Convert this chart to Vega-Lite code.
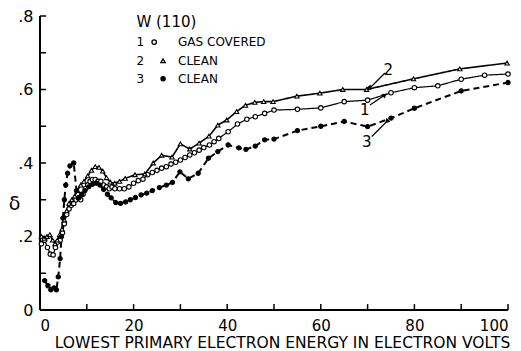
{
  "$schema": "https://vega.github.io/schema/vega-lite/v6.json",
  "width": 468,
  "height": 294,
  "autosize": {"type": "none"},
  "padding": {"left": 40, "top": 16, "right": 13, "bottom": 41},
  "background": "white",
  "config": {
    "view": {"stroke": null},
    "font": "DejaVu Sans",
    "axis": {"grid": false, "domain": false, "ticks": false, "labelColor": "black", "titleColor": "black", "labelFont": "DejaVu Sans", "titleFont": "DejaVu Sans", "titleFontWeight": "normal"}
  },
  "datasets": {
    "curves": [
      {"s":"1","x":0.3,"y":0.18},{"s":"1","x":1,"y":0.19},{"s":"1","x":1.6,"y":0.17},{"s":"1","x":2.2,"y":0.152},{"s":"1","x":2.8,"y":0.15},{"s":"1","x":3.3,"y":0.17},{"s":"1","x":3.8,"y":0.185},{"s":"1","x":4.3,"y":0.19},{"s":"1","x":4.8,"y":0.21},{"s":"1","x":5.2,"y":0.235},{"s":"1","x":5.7,"y":0.26},{"s":"1","x":6.2,"y":0.275},{"s":"1","x":6.7,"y":0.285},{"s":"1","x":7.2,"y":0.29},{"s":"1","x":7.7,"y":0.3},{"s":"1","x":8.2,"y":0.305},{"s":"1","x":8.7,"y":0.3},{"s":"1","x":9.2,"y":0.315},{"s":"1","x":9.7,"y":0.33},{"s":"1","x":10.2,"y":0.34},{"s":"1","x":10.7,"y":0.35},{"s":"1","x":11.2,"y":0.355},{"s":"1","x":11.8,"y":0.355},{"s":"1","x":12.4,"y":0.35},{"s":"1","x":13,"y":0.35},{"s":"1","x":13.6,"y":0.34},{"s":"1","x":14.2,"y":0.335},{"s":"1","x":14.8,"y":0.33},{"s":"1","x":15.4,"y":0.335},{"s":"1","x":16,"y":0.33},{"s":"1","x":17,"y":0.33},{"s":"1","x":18,"y":0.33},{"s":"1","x":19,"y":0.335},{"s":"1","x":20,"y":0.345},{"s":"1","x":21,"y":0.352},{"s":"1","x":22,"y":0.356},{"s":"1","x":23,"y":0.368},{"s":"1","x":24,"y":0.374},{"s":"1","x":25,"y":0.38},{"s":"1","x":26,"y":0.386},{"s":"1","x":27,"y":0.39},{"s":"1","x":28,"y":0.397},{"s":"1","x":29,"y":0.402},{"s":"1","x":30,"y":0.408},{"s":"1","x":31,"y":0.415},{"s":"1","x":32,"y":0.422},{"s":"1","x":33,"y":0.428},{"s":"1","x":34,"y":0.435},{"s":"1","x":35,"y":0.442},{"s":"1","x":36.2,"y":0.449},{"s":"1","x":37.2,"y":0.458},{"s":"1","x":38.2,"y":0.467},{"s":"1","x":40.2,"y":0.485},{"s":"1","x":42.2,"y":0.506},{"s":"1","x":44.2,"y":0.519},{"s":"1","x":46,"y":0.526},{"s":"1","x":48,"y":0.535},{"s":"1","x":50,"y":0.544},{"s":"1","x":55,"y":0.546},{"s":"1","x":60,"y":0.55},{"s":"1","x":65,"y":0.567},{"s":"1","x":70,"y":0.571},{"s":"1","x":75,"y":0.591},{"s":"1","x":80,"y":0.605},{"s":"1","x":85,"y":0.61},{"s":"1","x":90,"y":0.628},{"s":"1","x":95,"y":0.639},{"s":"1","x":100,"y":0.642},
      {"s":"2","x":0.3,"y":0.2},{"s":"2","x":0.9,"y":0.195},{"s":"2","x":1.5,"y":0.2},{"s":"2","x":2.1,"y":0.205},{"s":"2","x":2.7,"y":0.19},{"s":"2","x":3.2,"y":0.18},{"s":"2","x":3.7,"y":0.19},{"s":"2","x":4.2,"y":0.205},{"s":"2","x":4.7,"y":0.22},{"s":"2","x":5.2,"y":0.245},{"s":"2","x":5.7,"y":0.27},{"s":"2","x":6.2,"y":0.29},{"s":"2","x":6.8,"y":0.3},{"s":"2","x":7.4,"y":0.31},{"s":"2","x":8,"y":0.325},{"s":"2","x":8.7,"y":0.34},{"s":"2","x":9.4,"y":0.35},{"s":"2","x":10.2,"y":0.365},{"s":"2","x":11,"y":0.38},{"s":"2","x":11.8,"y":0.39},{"s":"2","x":12.6,"y":0.388},{"s":"2","x":13.4,"y":0.378},{"s":"2","x":14.2,"y":0.36},{"s":"2","x":15,"y":0.348},{"s":"2","x":16,"y":0.345},{"s":"2","x":17,"y":0.35},{"s":"2","x":18.2,"y":0.358},{"s":"2","x":20.3,"y":0.368},{"s":"2","x":22.4,"y":0.37},{"s":"2","x":24.2,"y":0.4},{"s":"2","x":26,"y":0.421},{"s":"2","x":28.2,"y":0.416},{"s":"2","x":30,"y":0.452},{"s":"2","x":32,"y":0.438},{"s":"2","x":34,"y":0.454},{"s":"2","x":36.1,"y":0.473},{"s":"2","x":38,"y":0.503},{"s":"2","x":39.9,"y":0.517},{"s":"2","x":42,"y":0.54},{"s":"2","x":43.9,"y":0.557},{"s":"2","x":45.9,"y":0.565},{"s":"2","x":47.8,"y":0.567},{"s":"2","x":49.8,"y":0.567},{"s":"2","x":54.9,"y":0.582},{"s":"2","x":59.8,"y":0.59},{"s":"2","x":64.7,"y":0.6},{"s":"2","x":69.8,"y":0.6},{"s":"2","x":79.8,"y":0.629},{"s":"2","x":89.7,"y":0.656},{"s":"2","x":99.8,"y":0.672},
      {"s":"3","x":1,"y":0.08},{"s":"3","x":1.7,"y":0.066},{"s":"3","x":2.3,"y":0.055},{"s":"3","x":3,"y":0.06},{"s":"3","x":3.5,"y":0.055},{"s":"3","x":3.9,"y":0.09},{"s":"3","x":4.3,"y":0.14},{"s":"3","x":4.6,"y":0.2},{"s":"3","x":4.9,"y":0.25},{"s":"3","x":5.2,"y":0.3},{"s":"3","x":5.5,"y":0.34},{"s":"3","x":5.9,"y":0.372},{"s":"3","x":6.4,"y":0.392},{"s":"3","x":7.2,"y":0.4},{"s":"3","x":7.8,"y":0.325},{"s":"3","x":8.3,"y":0.305},{"s":"3","x":8.9,"y":0.315},{"s":"3","x":9.6,"y":0.325},{"s":"3","x":10.4,"y":0.335},{"s":"3","x":11.2,"y":0.342},{"s":"3","x":12,"y":0.345},{"s":"3","x":12.8,"y":0.34},{"s":"3","x":13.6,"y":0.328},{"s":"3","x":14.4,"y":0.315},{"s":"3","x":15.2,"y":0.305},{"s":"3","x":16.2,"y":0.292},{"s":"3","x":17.2,"y":0.29},{"s":"3","x":18.3,"y":0.294},{"s":"3","x":19.3,"y":0.3},{"s":"3","x":20.4,"y":0.306},{"s":"3","x":21.6,"y":0.313},{"s":"3","x":22.8,"y":0.318},{"s":"3","x":24,"y":0.325},{"s":"3","x":25.5,"y":0.333},{"s":"3","x":27,"y":0.34},{"s":"3","x":28.3,"y":0.347},{"s":"3","x":29.9,"y":0.376},{"s":"3","x":31.7,"y":0.357},{"s":"3","x":33.8,"y":0.372},{"s":"3","x":36,"y":0.413},{"s":"3","x":38,"y":0.431},{"s":"3","x":40.2,"y":0.449},{"s":"3","x":42.5,"y":0.441},{"s":"3","x":44,"y":0.437},{"s":"3","x":46,"y":0.446},{"s":"3","x":48,"y":0.463},{"s":"3","x":50,"y":0.465},{"s":"3","x":55,"y":0.488},{"s":"3","x":60,"y":0.5},{"s":"3","x":65,"y":0.513},{"s":"3","x":70,"y":0.499},{"s":"3","x":75,"y":0.522},{"s":"3","x":80,"y":0.549},{"s":"3","x":90,"y":0.596},{"s":"3","x":100,"y":0.619}
    ],
    "xticks": [{"v":10},{"v":20},{"v":30},{"v":40},{"v":50},{"v":60},{"v":70},{"v":80},{"v":90},{"v":100}],
    "yticks": [{"v":0.1},{"v":0.2},{"v":0.3},{"v":0.4},{"v":0.5},{"v":0.6},{"v":0.7},{"v":0.8}],
    "keys": [
      {"s":"1","x":24.4,"y":0.729},
      {"s":"2","x":26.3,"y":0.678},
      {"s":"3","x":26.3,"y":0.629}
    ],
    "keytext": [
      {"x":20.6,"y":0.729,"t":"1"},
      {"x":20.6,"y":0.678,"t":"2"},
      {"x":20.6,"y":0.629,"t":"3"},
      {"x":29.5,"y":0.729,"t":"GAS COVERED"},
      {"x":29.5,"y":0.678,"t":"CLEAN"},
      {"x":29.5,"y":0.629,"t":"CLEAN"}
    ],
    "heading": [
      {"x":20.6,"y":0.784,"t":"W (110)"}
    ],
    "arrows": [
      {"n":"2","x":73.7,"y":0.645,"x2":70.5,"y2":0.604,"tx":74.4,"ty":0.653},
      {"n":"1","x":70.5,"y":0.558,"x2":73.7,"y2":0.585,"tx":69.4,"ty":0.544},
      {"n":"3","x":70.9,"y":0.472,"x2":74.1,"y2":0.513,"tx":69.8,"ty":0.457}
    ]
  },
  "layer": [
    {
      "data": {"name": "curves"},
      "mark": {"type": "line", "color": "black"},
      "encoding": {
        "x": {"field": "x", "type": "quantitative", "scale": {"domain": [0, 100], "nice": false},
          "axis": {"values": [0,20,40,60,80,100], "labelPadding": 8, "labelFontSize": 15, "title": "LOWEST PRIMARY ELECTRON ENERGY IN ELECTRON VOLTS", "titleFontSize": 15.5, "titlePadding": 2, "titleX": 242}},
        "y": {"field": "y", "type": "quantitative", "scale": {"domain": [0, 0.8], "nice": false},
          "axis": {"values": [0,0.2,0.4,0.6,0.8], "labelExpr": "datum.value == 0 ? '0' : replace(format(datum.value, '.1f'), '0.', '.')", "labelPadding": 7, "labelFontSize": 16, "title": "δ", "titleAngle": 0, "titleFontSize": 19, "titleX": -26, "titleY": 187, "titleAlign": "center", "titleBaseline": "middle"}},
        "detail": {"field": "s"},
        "strokeDash": {"field": "s", "type": "nominal", "scale": {"domain": ["1","2","3"], "range": [[1,0],[1,0],[6,4]]}, "legend": null},
        "strokeWidth": {"field": "s", "type": "ordinal", "scale": {"domain": ["1","2","3"], "range": [1.2, 2, 1.5]}, "legend": null}
      }
    },
    {
      "data": {"name": "curves"},
      "mark": {"type": "rule", "color": "black", "strokeWidth": 1.5},
      "encoding": {"y": {"datum": 0, "type": "quantitative"}}
    },
    {
      "data": {"name": "curves"},
      "mark": {"type": "rule", "color": "black", "strokeWidth": 1.5},
      "encoding": {"x": {"datum": 0, "type": "quantitative"}}
    },
    {
      "data": {"name": "xticks"},
      "mark": {"type": "rule", "color": "black", "strokeWidth": 1.5},
      "encoding": {
        "x": {"field": "v", "type": "quantitative"},
        "y": {"datum": 0, "type": "quantitative"},
        "y2": {"datum": 0.016}
      }
    },
    {
      "data": {"name": "yticks"},
      "mark": {"type": "rule", "color": "black", "strokeWidth": 1.5},
      "encoding": {
        "y": {"field": "v", "type": "quantitative"},
        "x": {"datum": 0, "type": "quantitative"},
        "x2": {"datum": 1.3}
      }
    },
    {
      "data": {"name": "curves"},
      "mark": {"type": "point", "stroke": "black", "strokeWidth": 1.1, "opacity": 1},
      "encoding": {
        "x": {"field": "x", "type": "quantitative"},
        "y": {"field": "y", "type": "quantitative"},
        "shape": {"field": "s", "type": "nominal", "scale": {"domain": ["1","2","3"], "range": ["circle","triangle-up","circle"]}, "legend": null},
        "fill": {"field": "s", "type": "nominal", "scale": {"domain": ["1","2","3"], "range": ["white","white","black"]}, "legend": null},
        "size": {"field": "s", "type": "ordinal", "scale": {"domain": ["1","2","3"], "range": [20, 18, 14]}, "legend": null}
      }
    },
    {
      "data": {"name": "keys"},
      "mark": {"type": "point", "stroke": "black", "strokeWidth": 1.3, "opacity": 1},
      "encoding": {
        "x": {"field": "x", "type": "quantitative"},
        "y": {"field": "y", "type": "quantitative"},
        "shape": {"field": "s", "type": "nominal", "legend": null},
        "fill": {"field": "s", "type": "nominal", "legend": null},
        "size": {"field": "s", "type": "ordinal", "legend": null}
      }
    },
    {
      "data": {"name": "keytext"},
      "mark": {"type": "text", "align": "left", "baseline": "middle", "fontSize": 12, "color": "black"},
      "encoding": {
        "x": {"field": "x", "type": "quantitative"},
        "y": {"field": "y", "type": "quantitative"},
        "text": {"field": "t"}
      }
    },
    {
      "data": {"name": "heading"},
      "mark": {"type": "text", "align": "left", "baseline": "middle", "fontSize": 15, "color": "black"},
      "encoding": {
        "x": {"field": "x", "type": "quantitative"},
        "y": {"field": "y", "type": "quantitative"},
        "text": {"field": "t"}
      }
    },
    {
      "data": {"name": "arrows"},
      "mark": {"type": "rule", "color": "black", "strokeWidth": 1.2},
      "encoding": {
        "x": {"field": "x", "type": "quantitative"},
        "y": {"field": "y", "type": "quantitative"},
        "x2": {"field": "x2"},
        "y2": {"field": "y2"}
      }
    },
    {
      "data": {"name": "arrows"},
      "mark": {"type": "point", "shape": "triangle-up", "filled": true, "color": "black", "size": 30, "opacity": 1},
      "encoding": {
        "x": {"field": "x2", "type": "quantitative"},
        "y": {"field": "y2", "type": "quantitative"},
        "angle": {"field": "n", "type": "nominal", "scale": {"domain": ["1","2","3"], "range": [56, 225, 45]}, "legend": null}
      }
    },
    {
      "data": {"name": "arrows"},
      "mark": {"type": "text", "align": "center", "baseline": "middle", "fontSize": 15, "color": "black"},
      "encoding": {
        "x": {"field": "tx", "type": "quantitative"},
        "y": {"field": "ty", "type": "quantitative"},
        "text": {"field": "n"}
      }
    }
  ],
  "resolve": {"scale": {"shape": "shared", "fill": "shared", "size": "shared"}}
}
